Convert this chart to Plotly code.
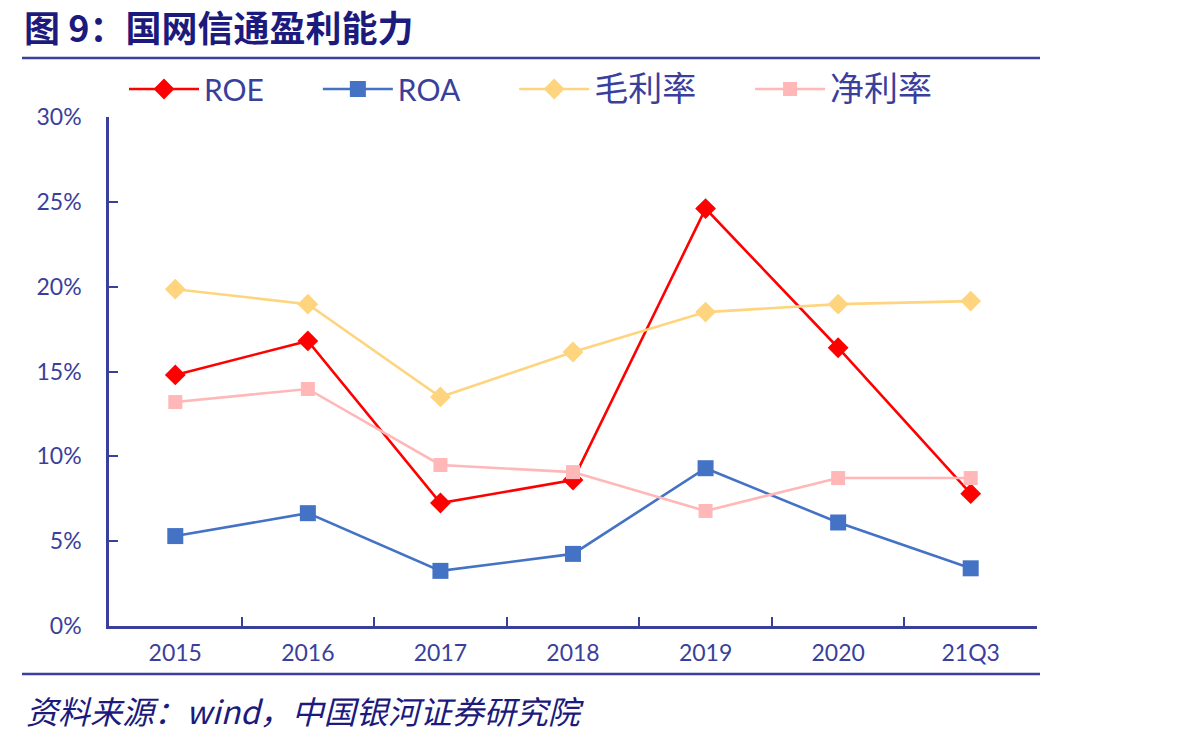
import plotly.graph_objects as go

categories = ["2015", "2016", "2017", "2018", "2019", "2020", "21Q3"]
roe = [0.148, 0.168, 0.0725, 0.086, 0.246, 0.164, 0.078]
roa = [0.053, 0.0665, 0.0325, 0.0425, 0.093, 0.061, 0.034]
gross_margin = [0.1985, 0.1897, 0.135, 0.1615, 0.185, 0.1897, 0.1915]
net_margin = [0.132, 0.1397, 0.0949, 0.0907, 0.0678, 0.0872, 0.0872]
y_ticks = [0, 0.05, 0.10, 0.15, 0.20, 0.25, 0.30]
y_tick_text = ["0%", "5%", "10%", "15%", "20%", "25%", "30%"]

W, H = 1187, 740
L, R, T, B = 109, 1037, 117, 626
AX = "#3a3f9c"
NAVY = "#1c1a7c"
FONT = "Lato, 'Noto Sans CJK SC', sans-serif"
GAP = "\u2003\u2002\u00a0\u2009"


def px(x):
    return (x - L) / (R - L)


def py(y):
    return (B - y) / (B - T)


def cjk(s):
    return "<span style='font-size:34px'>" + s + "</span>"


series = [
    ("ROE", roe, "#FF0000", "diamond", 16),
    ("ROA", roa, "#4472C4", "square", 16),
    (cjk("毛利率"), gross_margin, "#FFD47F", "diamond", 16),
    (cjk("净利率"), net_margin, "#FFB7B7", "square", 14),
]

fig = go.Figure()
for name, vals, color, sym, size in series:
    fig.add_trace(go.Scatter(
        x=categories, y=vals, name=name + GAP, mode="lines+markers",
        line=dict(color=color, width=2.6),
        marker=dict(symbol=sym, size=size, color=color),
    ))

fig.update_layout(
    width=W, height=H,
    margin=dict(l=L, r=W - R, t=T, b=H - B),
    paper_bgcolor="white", plot_bgcolor="white",
    font=dict(family=FONT, color=AX, size=20),
    showlegend=True,
    legend=dict(
        orientation="h", x=px(124), y=py(89), xanchor="left", yanchor="middle",
        font=dict(size=30, color=AX, family=FONT), itemwidth=70,
        bgcolor="rgba(0,0,0,0)",
    ),
    xaxis=dict(
        type="category", range=[-0.5, 6.5], showline=True, linecolor=AX, linewidth=2.5,
        ticks="inside", tickson="boundaries", ticklen=9, tickwidth=2, tickcolor=AX,
        showgrid=False, zeroline=False, tickfont=dict(size=23, color=AX),
        ticklabelstandoff=5,
    ),
    yaxis=dict(
        range=[0, 0.30], tickvals=y_ticks, ticktext=y_tick_text, showline=True,
        linecolor=AX, linewidth=2.5, ticks="inside", ticklen=9, tickwidth=2,
        tickcolor=AX, showgrid=False, zeroline=False,
        tickfont=dict(size=23, color=AX), ticklabelstandoff=20,
    ),
    shapes=[
        dict(type="line", xref="paper", yref="paper", x0=px(22), x1=px(1040),
             y0=py(58), y1=py(58), line=dict(color=AX, width=2.5)),
        dict(type="line", xref="paper", yref="paper", x0=px(22), x1=px(1040),
             y0=py(674), y1=py(674), line=dict(color=AX, width=2.5)),
    ],
    annotations=[
        dict(text="<b>图 9：国网信通盈利能力</b>", xref="paper", yref="paper",
             x=px(22), y=py(26), xanchor="left", yanchor="middle", showarrow=False,
             font=dict(size=36, color=NAVY, family="'Noto Sans CJK SC', serif")),
        dict(text="资料来源：wind，中国银河证券研究院", xref="paper", yref="paper",
             x=px(24), y=py(710), xanchor="left", yanchor="middle", showarrow=False,
             font=dict(size=32, color=NAVY, family="'Noto Sans CJK SC', serif",
                       style="italic")),
    ],
)

fig.write_html("out.html")
